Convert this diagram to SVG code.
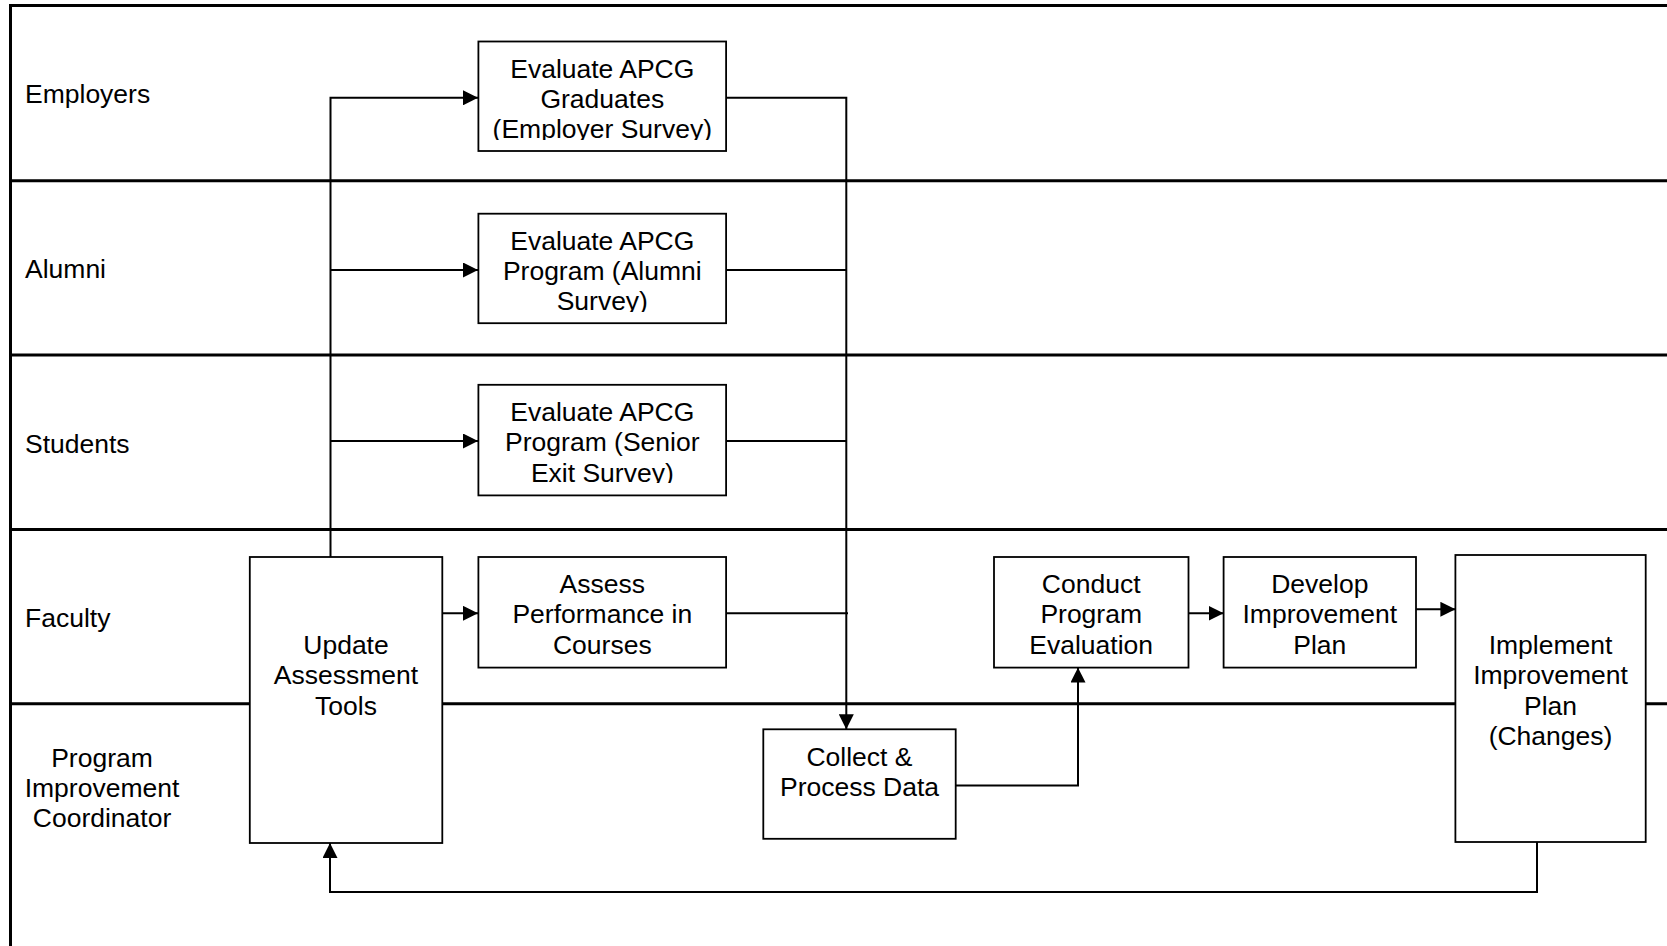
<svg xmlns="http://www.w3.org/2000/svg" width="1667" height="946" viewBox="0 0 1667 946">
<style>
.lane{stroke:#000;stroke-width:3;fill:none}
.box{fill:#fff;stroke:#000;stroke-width:1.8}
.t{font-family:"Liberation Sans",Arial,sans-serif;font-size:26.5px;fill:#000}
.c{text-anchor:middle}
.conn{fill:none;stroke:#000;stroke-width:2}
</style>
<defs>
<marker id="ah" markerUnits="userSpaceOnUse" markerWidth="15" markerHeight="15" refX="15" refY="7.5" orient="auto">
<path d="M0,0 L15,7.5 L0,15 z" fill="#000"/>
</marker>
<clipPath id="clipEmp"><rect x="478" y="41" width="249" height="99"/></clipPath>
<clipPath id="clipAlu"><rect x="478" y="213" width="249" height="99"/></clipPath>
<clipPath id="clipStu"><rect x="478" y="384" width="249" height="99"/></clipPath>
</defs>
<rect width="1667" height="946" fill="#fff"/>
<g id="lanes">
<path class="lane" d="M10.5,946 V5.5 H1667"/>
<path class="lane" d="M10.5,180.7 H1667 M10.5,355 H1667 M10.5,529.4 H1667 M10.5,703.8 H1667"/>
<text class="t" x="25" y="103">Employers</text>
<text class="t" x="25" y="277.6">Alumni</text>
<text class="t" x="25" y="452.8">Students</text>
<text class="t" x="25" y="627">Faculty</text>
<text class="t c" x="102" y="766.7">Program</text>
<text class="t c" x="102" y="797">Improvement</text>
<text class="t c" x="102" y="827.3">Coordinator</text>
</g>
<g id="connectors">
<path class="conn" d="M330.5,557 V97.8 H478" marker-end="url(#ah)"/>
<path class="conn" d="M330.5,270 H478" marker-end="url(#ah)"/>
<path class="conn" d="M330.5,441 H478" marker-end="url(#ah)"/>
<path class="conn" d="M726,97.8 H846.3 V729.3" marker-end="url(#ah)"/>
<path class="conn" d="M726,270 H846.3"/>
<path class="conn" d="M726,441 H846.3"/>
<path class="conn" d="M726,613.3 H848"/>
<path class="conn" d="M442.3,613.3 H478" marker-end="url(#ah)"/>
<path class="conn" d="M955.7,785.6 H1078 V667.6" marker-end="url(#ah)"/>
<path class="conn" d="M1188.5,613.3 H1223.6" marker-end="url(#ah)"/>
<path class="conn" d="M1416,609.3 H1455.4" marker-end="url(#ah)"/>
<path class="conn" d="M1537,842 V892 H330 V843" marker-end="url(#ah)"/>
</g>
<g id="employer-survey">
<rect class="box" x="478.4" y="41.5" width="247.7" height="109.5"/>
<g clip-path="url(#clipEmp)">
<text class="t c" x="602.3" y="77.6">Evaluate APCG</text>
<text class="t c" x="602.3" y="107.9">Graduates</text>
<text class="t c" x="602.3" y="138.2">(Employer Survey)</text>
</g>
</g>
<g id="alumni-survey">
<rect class="box" x="478.4" y="213.7" width="247.7" height="109.5"/>
<g clip-path="url(#clipAlu)">
<text class="t c" x="602.3" y="249.8">Evaluate APCG</text>
<text class="t c" x="602.3" y="280.1">Program (Alumni</text>
<text class="t c" x="602.3" y="310.4">Survey)</text>
</g>
</g>
<g id="senior-exit-survey">
<rect class="box" x="478.4" y="384.8" width="247.7" height="110.6"/>
<g clip-path="url(#clipStu)">
<text class="t c" x="602.3" y="420.9">Evaluate APCG</text>
<text class="t c" x="602.3" y="451.2">Program (Senior</text>
<text class="t c" x="602.3" y="481.5">Exit Survey)</text>
</g>
</g>
<g id="assess-performance">
<rect class="box" x="478.4" y="557" width="247.7" height="110.6"/>
<text class="t c" x="602.3" y="593">Assess</text>
<text class="t c" x="602.3" y="623.3">Performance in</text>
<text class="t c" x="602.3" y="653.6">Courses</text>
</g>
<g id="update-tools">
<rect class="box" x="249.8" y="557" width="192.5" height="286"/>
<text class="t c" x="346" y="654">Update</text>
<text class="t c" x="346" y="684.3">Assessment</text>
<text class="t c" x="346" y="714.6">Tools</text>
</g>
<g id="collect-data">
<rect class="box" x="763.3" y="729.3" width="192.4" height="109.5"/>
<text class="t c" x="859.5" y="765.5">Collect &amp;</text>
<text class="t c" x="859.5" y="795.8">Process Data</text>
</g>
<g id="conduct-evaluation">
<rect class="box" x="994" y="557" width="194.5" height="110.6"/>
<text class="t c" x="1091.2" y="593">Conduct</text>
<text class="t c" x="1091.2" y="623.3">Program</text>
<text class="t c" x="1091.2" y="653.6">Evaluation</text>
</g>
<g id="develop-plan">
<rect class="box" x="1223.6" y="557" width="192.4" height="110.6"/>
<text class="t c" x="1319.8" y="593">Develop</text>
<text class="t c" x="1319.8" y="623.3">Improvement</text>
<text class="t c" x="1319.8" y="653.6">Plan</text>
</g>
<g id="implement-plan">
<rect class="box" x="1455.4" y="555" width="190.3" height="287"/>
<text class="t c" x="1550.5" y="654">Implement</text>
<text class="t c" x="1550.5" y="684.3">Improvement</text>
<text class="t c" x="1550.5" y="714.6">Plan</text>
<text class="t c" x="1550.5" y="744.9">(Changes)</text>
</g>
</svg>
